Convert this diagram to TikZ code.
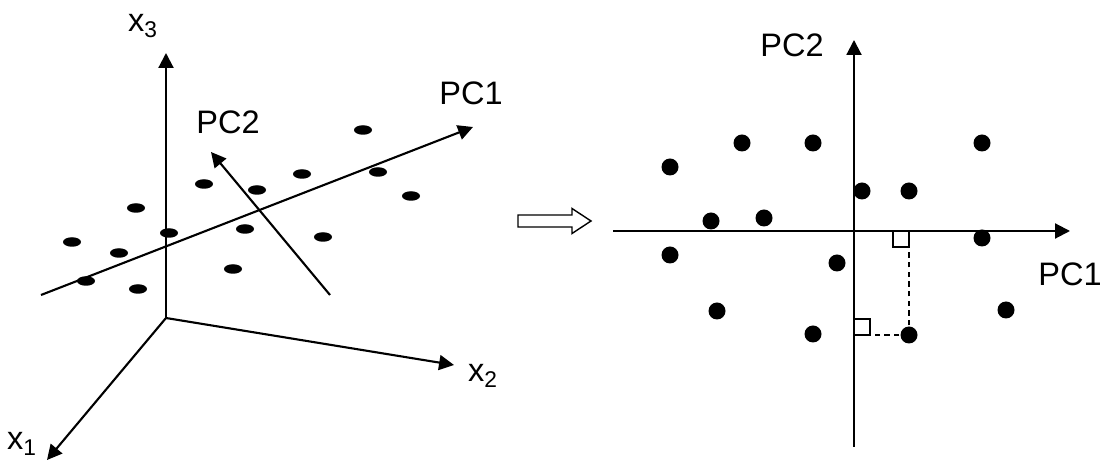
\documentclass[tikz,border=0pt]{standalone}
\usepackage{fontspec}
\setmainfont{Liberation Sans}
\usetikzlibrary{arrows.meta}

\tikzset{
    axis/.style={black, line width=1.2pt, -{Triangle[length=8.5pt,width=8.5pt]}},
    lbl/.style={inner sep=0pt, font=\fontsize{18.5}{22}\selectfont},
    thinline/.style={black, line width=0.8pt}
}

\begin{document}
\begin{tikzpicture}
            \useasboundingbox (0,0) rectangle (22.02,9.24);
            \coordinate (o) at (3.32,2.88);
            \coordinate (xone) at (0.94,0.04);
            \coordinate (xtwo) at (9.08,1.94);
            \coordinate (xthree) at (3.32,8.18);
            \draw [axis] (o) -- (xthree);
            \draw [axis] (o) -- (xtwo);
            \draw [axis] (o) -- (xone);
            \node[lbl] (lxone) at (0.44,0.36) {x\textsubscript{1}};
            \node[lbl] (lxtwo) at (9.66,1.72) {x\textsubscript{2}};
            \node[lbl] (lxthree) at (2.86,8.72) {x\textsubscript{3}};
            \coordinate (pcas) at (0.82,3.34);
            \coordinate (pcae) at (9.46,6.70);
            \coordinate (pcbs) at (6.60,3.34);
            \coordinate (pcbe) at (4.22,6.20);
            \draw [axis] (pcas) -- (pcae);
            \draw [axis] (pcbs) -- (pcbe);
            \node[lbl] (lpcone) at (9.42,7.38) {PC1};
            \node[lbl] (lpctwo) at (4.56,6.80) {PC2};
             \foreach \x/\y in {4.08/5.56, 5.14/5.44, 2.72/5.08, 3.38/4.58, 4.90/4.66,
                                7.26/6.64, 6.04/5.76, 7.56/5.80, 8.22/5.32, 6.46/4.50,
                                1.44/4.40, 2.38/4.18, 1.72/3.62, 2.76/3.46, 4.66/3.86}
            \fill (\x,\y) ellipse (0.18 and 0.095);
            \draw [thinline] (10.36,4.70) -- (11.44,4.70) -- (11.44,4.57) -- (11.82,4.82)
                -- (11.44,5.07) -- (11.44,4.94) -- (10.36,4.94) -- cycle;
            \coordinate (ro) at (17.08,4.62);
            \coordinate (hs) at (12.26,4.62);
            \coordinate (he) at (21.40,4.62);
            \coordinate (vs) at (17.08,0.30);
            \coordinate (ve) at (17.08,8.44);
            \draw [axis] (hs) -- (he);
            \draw [axis] (vs) -- (ve);
            \node[lbl] (rpcone) at (21.40,3.76) {PC1};
            \node[lbl] (rpctwo) at (15.84,8.34) {PC2};
             \foreach \x/\y in {13.40/5.90, 14.84/6.38, 16.26/6.38, 19.64/6.38, 17.24/5.42,
                                18.18/5.42, 14.22/4.82, 15.28/4.88, 13.40/4.14, 16.74/3.98,
                                19.64/4.48, 14.34/3.02, 16.26/2.56, 20.12/3.04}
            \fill (\x,\y) circle (0.17);
            \coordinate (q) at (18.18,2.54);
            \coordinate (qx) at (18.18,4.62);
            \coordinate (qy) at (17.08,2.54);
            \draw [thinline, dash pattern=on 3pt off 2.5pt] (q) -- (qx);
            \draw [thinline, dash pattern=on 3pt off 2.5pt] (q) -- (qy);
            \draw [thinline, fill=white] (qx) rectangle ++(-0.32,-0.32);
            \draw [thinline, fill=white] (qy) rectangle ++(0.32,0.32);
            \fill (q) circle (0.17);
\end{tikzpicture}
\end{document}
